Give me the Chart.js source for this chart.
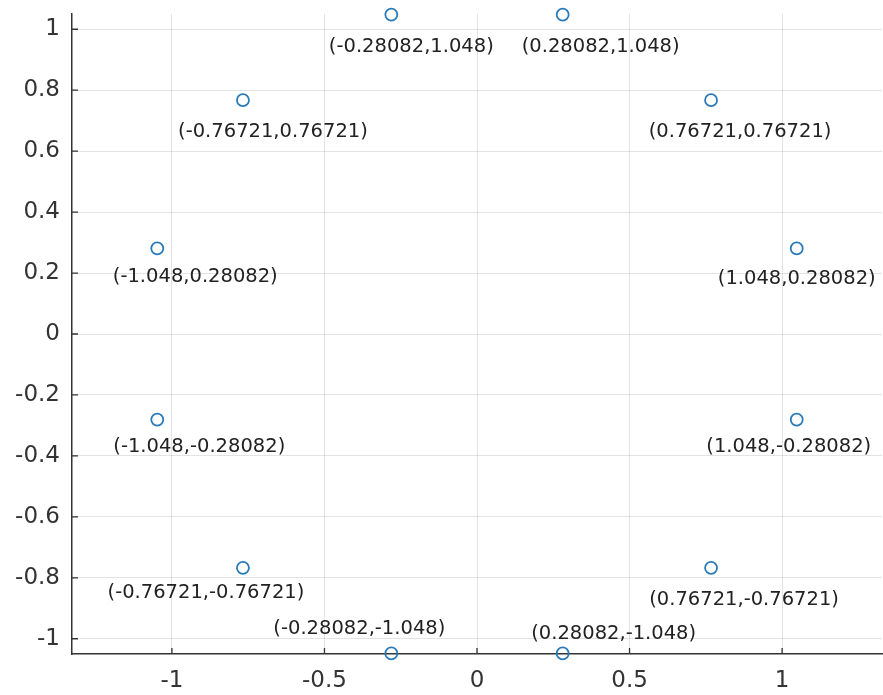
<!DOCTYPE html>
<html>
<head>
<meta charset="utf-8">
<script src="https://cdn.jsdelivr.net/npm/chart.js@4"></script>
<style>
  html, body { margin: 0; padding: 0; background: #fff; }
  #wrap { width: 883px; height: 695px; }
</style>
</head>
<body>
<div id="wrap"><canvas id="c"></canvas></div>
<script>
// points on the circle, in order
const xs = [1.048, 0.76721, 0.28082, -0.28082, -0.76721, -1.048, -1.048, -0.76721, -0.28082, 0.28082, 0.76721, 1.048];
const ys = [0.28082, 0.76721, 1.048, 1.048, 0.76721, 0.28082, -0.28082, -0.76721, -1.048, -1.048, -0.76721, -0.28082];
const pointLabels = xs.map((x, i) => '(' + x + ',' + ys[i] + ')');

const xTicks = [-1, -0.5, 0, 0.5, 1];
const yTicks = [-1, -0.8, -0.6, -0.4, -0.2, 0, 0.2, 0.4, 0.6, 0.8, 1];

// annotation text: pixel offset of each label from its point
const labelPlugin = {
  id: 'ptLabels',
  afterDatasetsDraw(chart, args, opts) {
    const ctx = chart.ctx;
    const meta = chart.getDatasetMeta(0);
    ctx.save();
    ctx.font = opts.size + 'px "DejaVu Sans"';
    ctx.fillStyle = opts.color;
    ctx.textAlign = 'center';
    ctx.textBaseline = 'alphabetic';
    meta.data.forEach((pt, i) => {
      ctx.fillText(pointLabels[i], pt.x + opts.dx[i], pt.y + opts.dy[i] + opts.size * 0.34);
    });
    ctx.restore();
  }
};

// short ticks pointing into the plot
const innerTicks = {
  id: 'innerTicks',
  afterDraw(chart) {
    const ctx = chart.ctx;
    const a = chart.chartArea;
    const sx = chart.scales.x, sy = chart.scales.y;
    ctx.save();
    ctx.strokeStyle = '#333';
    ctx.lineWidth = 1.3;
    ctx.beginPath();
    xTicks.forEach(v => {
      const p = sx.getPixelForValue(v);
      ctx.moveTo(p, a.bottom);
      ctx.lineTo(p, a.bottom - 6);
    });
    yTicks.forEach(v => {
      const p = sy.getPixelForValue(v);
      ctx.moveTo(a.left, p);
      ctx.lineTo(a.left + 6, p);
    });
    ctx.stroke();
    ctx.restore();
  }
};

const tickFont = { family: 'DejaVu Sans', size: 23 };

new Chart(document.getElementById('c'), {
  type: 'scatter',
  data: {
    datasets: [{
      data: xs.map((x, i) => ({ x: x, y: ys[i] })),
      showLine: false,
      pointStyle: 'circle',
      pointRadius: 6,
      pointBorderWidth: 1.8,
      pointBorderColor: '#2a7ab8',
      pointBackgroundColor: 'rgba(0,0,0,0)',
      clip: false
    }]
  },
  options: {
    responsive: true,
    maintainAspectRatio: false,
    animation: false,
    layout: { autoPadding: false, padding: { top: 14, right: 1, left: 0, bottom: 0 } },
    plugins: {
      legend: { display: false },
      tooltip: { enabled: false },
      ptLabels: {
        size: 19.5,
        color: '#222',
        dx: [0, 29, 38, 20, 30, 38, 42, -37, -32, 51, 33, -8],
        dy: [29, 30, 31, 31, 30, 27, 26, 24, -26, -21, 31, 26]
      }
    },
    scales: {
      x: {
        type: 'linear',
        min: -1.3275,
        max: 1.3275,
        afterBuildTicks: s => { s.ticks = xTicks.map(v => ({ value: v })); },
        afterFit: s => { s.height = 41; s.paddingLeft = 0; s.paddingRight = 0; },
        grid: { color: 'rgba(0,0,0,0.11)', drawTicks: false },
        border: { color: '#333', width: 1.5 },
        ticks: { font: tickFont, color: '#333', padding: 13, maxRotation: 0, callback: v => String(v) }
      },
      y: {
        type: 'linear',
        min: -1.05,
        max: 1.05,
        afterBuildTicks: s => { s.ticks = yTicks.map(v => ({ value: v })); },
        afterFit: s => { s.width = 72; s.paddingTop = 0; s.paddingBottom = 0; },
        grid: { color: 'rgba(0,0,0,0.11)', drawTicks: false },
        border: { color: '#333', width: 1.5 },
        ticks: { font: tickFont, color: '#333', padding: 12, callback: v => String(v) }
      }
    }
  },
  plugins: [labelPlugin, innerTicks]
});
</script>
</body>
</html>
